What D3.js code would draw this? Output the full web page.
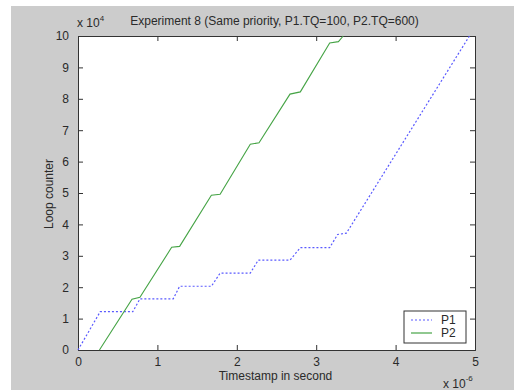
<!DOCTYPE html>
<html>
<head>
<meta charset="utf-8">
<script src="https://cdn.jsdelivr.net/npm/d3@7"></script>
<style>
body{margin:0;background:#fff;}
text{font-family:"Liberation Sans",Arial,sans-serif;fill:#2a2a2a;}
.axis path{stroke:#333;}
.axis line{stroke:#333;}
</style>
</head>
<body>
<script>
// sizes
var wid=514, hgh=390;
var mleft=78, mright=475, mtop=36, mbot=350; // plot box
var fsz=12; // font size
// data: time in 1e-6 s, counter in 1e4
var p1t=[0,0.28,0.69,0.78,1.20,1.28,1.68,1.79,2.17,2.27,2.67,2.80,3.17,3.27,3.38,4.93];
var p1y=[0,1.22,1.22,1.63,1.63,2.03,2.03,2.45,2.45,2.86,2.86,3.26,3.26,3.68,3.72,10.0];
var p2t=[0.27,0.68,0.78,1.18,1.28,1.68,1.79,2.17,2.28,2.67,2.80,3.17,3.28,3.34];
var p2y=[0,1.62,1.68,3.27,3.30,4.93,4.96,6.55,6.60,8.15,8.22,9.78,9.82,10.0];
var xticks=[0,1,2,3,4,5];
var yticks=[0,1,2,3,4,5,6,7,8,9,10];
var names=['P1','P2'];

var svg=d3.select('body').append('svg').attr('width',wid).attr('height',hgh);
svg.append('rect').attr('x',11).attr('y',6).attr('width',wid-11).attr('height',hgh-6).attr('fill','#cccccc');
svg.append('rect').attr('x',mleft).attr('y',mtop).attr('width',mright-mleft).attr('height',mbot-mtop).attr('fill','#fff');

var x=d3.scaleLinear().domain([0,5]).range([mleft,mright]);
var y=d3.scaleLinear().domain([0,10]).range([mbot,mtop]);

// axes, ticks pointing inward
svg.append('g').attr('class','axis').attr('transform','translate(0,'+mbot+')')
  .call(d3.axisBottom(x).tickValues(xticks).tickSize(-5).tickPadding(7).tickFormat(d3.format('d')))
  .call(function(g){g.selectAll('text').attr('font-size',fsz);});
svg.append('g').attr('class','axis').attr('transform','translate(0,'+mtop+')')
  .call(d3.axisTop(x).tickValues(xticks).tickSize(-5).tickFormat(''));
svg.append('g').attr('class','axis').attr('transform','translate('+mleft+',0)')
  .call(d3.axisLeft(y).tickValues(yticks).tickSize(-5).tickPadding(9).tickFormat(d3.format('d')))
  .call(function(g){g.selectAll('text').attr('font-size',fsz);});
svg.append('g').attr('class','axis').attr('transform','translate('+mright+',0)')
  .call(d3.axisRight(y).tickValues(yticks).tickSize(-5).tickFormat(''));
svg.selectAll('.axis path').attr('fill','none');

var line=d3.line().x(function(d){return x(d[0]);}).y(function(d){return y(d[1]);});
svg.append('path').datum(d3.zip(p1t,p1y)).attr('d',line)
  .attr('fill','none').attr('stroke','#5a5aff').attr('stroke-width',1.2).attr('stroke-dasharray','2,2');
svg.append('path').datum(d3.zip(p2t,p2y)).attr('d',line)
  .attr('fill','none').attr('stroke','#46a446').attr('stroke-width',1.1);

// texts
svg.append('text').attr('x',(mleft+mright)/2-2).attr('y',25).attr('text-anchor','middle').attr('font-size',fsz)
  .text('Experiment 8 (Same priority, P1.TQ=100, P2.TQ=600)');
svg.append('text').attr('x',(mleft+mright)/2-1).attr('y',380).attr('text-anchor','middle').attr('font-size',fsz)
  .text('Timestamp in second');
svg.append('text').attr('transform','translate(53,194) rotate(-90)').attr('text-anchor','middle').attr('font-size',fsz)
  .text('Loop counter');
var e4=svg.append('text').attr('x',77).attr('y',27).attr('font-size',fsz);
e4.append('tspan').text('x 10');
e4.append('tspan').attr('dy',-6).attr('font-size',8).text('4');
var e6=svg.append('text').attr('x',443).attr('y',388).attr('font-size',fsz);
e6.append('tspan').text('x 10');
e6.append('tspan').attr('dy',-7).attr('font-size',8).text('-6');

// legend
var lg=svg.append('g');
lg.append('rect').attr('x',404).attr('y',311).attr('width',62).attr('height',32)
  .attr('fill','#fff').attr('stroke','#333').attr('stroke-width',1);
var cols=['#5a5aff','#46a446'], dash=['2,2',null];
names.forEach(function(n,i){
  var yy=320+i*13;
  lg.append('line').attr('x1',411).attr('x2',432).attr('y1',yy).attr('y2',yy)
    .attr('stroke',cols[i]).attr('stroke-width',1.2).attr('stroke-dasharray',dash[i]);
  lg.append('text').attr('x',441).attr('y',yy+4).attr('font-size',fsz).text(n);
});
</script>
</body>
</html>
